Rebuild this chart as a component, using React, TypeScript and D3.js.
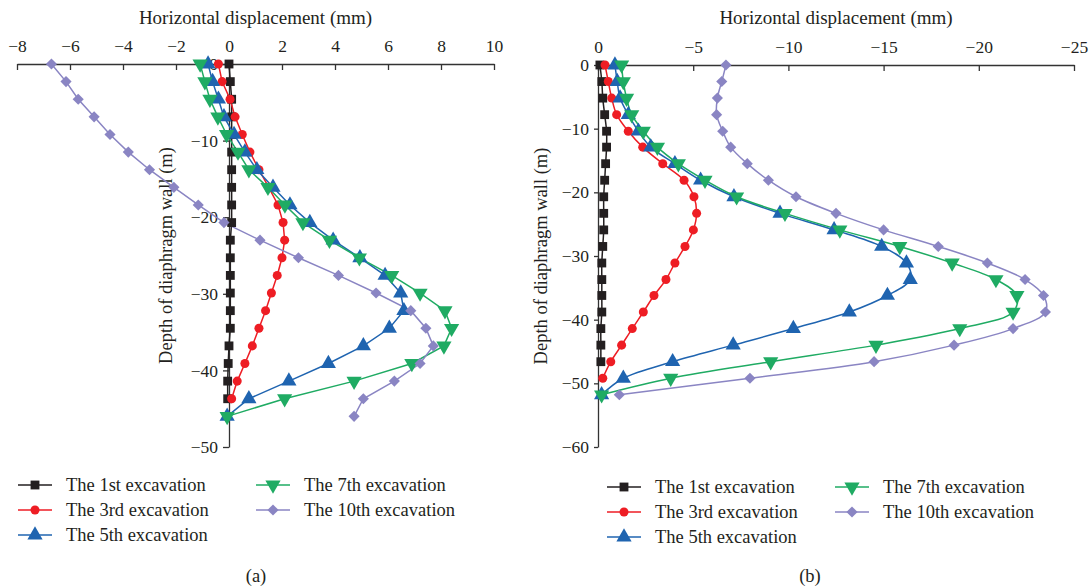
import React, { useEffect, useRef } from 'react';
import * as d3 from 'd3';

// depth of each inclinometer reading (m)
const depthA = [0, -2.3, -4.6, -6.9, -9.2, -11.5, -13.8, -16.1, -18.4, -20.7, -23, -25.3, -27.6, -29.9, -32.2, -34.5, -36.8, -39.1, -41.4, -43.7, -46];
const depthB = [0, -2.6, -5.2, -7.8, -10.4, -12.9, -15.5, -18.1, -20.7, -23.3, -25.9, -28.5, -31.1, -33.7, -36.2, -38.8, -41.4, -44.0, -46.6, -49.2, -51.8];

// (a) horizontal displacement (mm)
const a1st = [0, 0.05, 0.1, 0.1, 0.1, 0.1, 0.1, 0.1, 0.1, 0.1, 0.05, 0.05, 0.05, 0.05, 0.05, 0.05, 0, -0.03, -0.05, -0.05];
const a3rd = [-0.4, -0.26, 0.04, 0.23, 0.5, 0.79, 1.13, 1.5, 1.85, 2.04, 2.1, 2.0, 1.82, 1.6, 1.38, 1.13, 0.88, 0.6, 0.31, 0.1];
const a5th = [-0.79, -0.62, -0.4, -0.19, 0.19, 0.6, 1.05, 1.66, 2.3, 3.05, 3.93, 4.94, 5.89, 6.48, 6.6, 6.05, 5.07, 3.75, 2.26, 0.75, -0.07];
const a7th = [-1.09, -0.91, -0.72, -0.42, -0.09, 0.34, 0.75, 1.47, 2.11, 2.79, 3.79, 4.92, 6.14, 7.21, 8.15, 8.4, 8.11, 6.9, 4.72, 2.1, -0.07];
const a10th = [-6.7, -6.15, -5.69, -5.09, -4.49, -3.8, -3.0, -2.08, -1.16, -0.19, 1.17, 2.62, 4.13, 5.55, 6.86, 7.43, 7.71, 7.21, 6.24, 5.07, 4.72];

// (b) horizontal displacement (mm)
const b1st = [-0.1, -0.2, -0.25, -0.35, -0.45, -0.45, -0.4, -0.35, -0.3, -0.3, -0.3, -0.25, -0.2, -0.2, -0.2, -0.2, -0.15, -0.15, -0.15];
const b3rd = [-0.37, -0.54, -0.72, -0.98, -1.59, -2.35, -3.4, -4.52, -5.04, -5.18, -5.01, -4.57, -4.04, -3.57, -2.94, -2.38, -1.8, -1.24, -0.67, -0.25];
const b5th = [-0.89, -1.01, -1.16, -1.59, -2.12, -2.77, -4.04, -5.39, -7.14, -9.56, -12.4, -14.9, -16.2, -16.4, -15.2, -13.2, -10.26, -7.1, -3.92, -1.33, -0.19];
const b7th = [-1.24, -1.33, -1.5, -1.77, -2.38, -3.12, -4.22, -5.62, -7.28, -9.82, -12.7, -15.85, -18.6, -20.9, -22.0, -21.8, -19.0, -14.6, -9.07, -3.82, -0.19];
const b10th = [-6.72, -6.5, -6.27, -6.23, -6.55, -6.97, -7.84, -8.95, -10.4, -12.5, -15.0, -17.87, -20.45, -22.43, -23.4, -23.5, -21.8, -18.7, -14.5, -7.98, -1.12];

const seriesNames = ['The 1st excavation', 'The 3rd excavation', 'The 5th excavation', 'The 7th excavation', 'The 10th excavation'];
const ticksXA = [-8, -6, -4, -2, 0, 2, 4, 6, 8, 10];
const ticksYA = [0, -10, -20, -30, -40, -50];
const ticksXB = [0, -5, -10, -15, -20, -25];
const ticksYB = [0, -10, -20, -30, -40, -50, -60];

const colors = ['#231f20', '#ee1d24', '#1f64b0', '#1fab63', '#8a85c3'];
// diamond = square turned 45 degrees, like the spreadsheet marker
const shapes = [d3.symbolSquare, d3.symbolCircle, d3.symbolTriangle, d3.symbolTriangle, d3.symbolSquare];
const sizes = [78, 64, 100, 100, 62];
const rotations = [0, 0, 0, 180, 45];

const FONT = '"Liberation Serif", "DejaVu Serif", serif';
const TEXT = '#231f20';

const App = () => {
    const container = useRef<SVGSVGElement>(null);

    useEffect(() => {
        if (!container.current) return;
        const svg = d3.select(container.current);
        svg.selectAll('*').remove();

        const panels = [
            {
                x: d3.scaleLinear().domain([-8, 10]).range([17, 494]),
                y: d3.scaleLinear().domain([0, -50]).range([64, 447]),
                ticksX: ticksXA, ticksY: ticksYA,
                depth: depthA,
                series: [a1st, a3rd, a5th, a7th, a10th],
                curve: d3.curveLinear,
                yTick: 6,
                yTitleX: 172,
                legendX: [18, 256], legendY: [485, 510, 535],
                caption: '(a)', captionX: 256,
            },
            {
                x: d3.scaleLinear().domain([0, -25]).range([598, 1074]),
                y: d3.scaleLinear().domain([0, -60]).range([65, 447]),
                ticksX: ticksXB, ticksY: ticksYB,
                depth: depthB,
                series: [b1st, b3rd, b5th, b7th, b10th],
                curve: d3.curveCatmullRom,
                yTick: 4,
                yTitleX: 547,
                legendX: [607, 835], legendY: [487, 512, 537],
                caption: '(b)', captionX: 810,
            },
        ];

        panels.forEach((p) => {
            const g = svg.append('g');
            const [x0, x1] = p.x.range();
            const [y0, y1] = p.y.range();

            // top x axis, ticks pointing into the plot
            const xAxis = g.append('g')
                .attr('transform', `translate(0, ${y0})`)
                .call(d3.axisTop(p.x).tickValues(p.ticksX).tickSizeInner(-6).tickSizeOuter(0).tickPadding(12));
            xAxis.attr('font-family', FONT).attr('font-size', 17.5);
            xAxis.selectAll('path, line').attr('stroke', '#333').attr('stroke-width', 1.3);
            xAxis.selectAll('text').attr('fill', TEXT);

            g.append('text')
                .attr('x', (x0 + x1) / 2)
                .attr('y', 24)
                .attr('text-anchor', 'middle')
                .attr('font-family', FONT)
                .attr('font-size', 19)
                .attr('fill', TEXT)
                .text('Horizontal displacement (mm)');

            // left y axis at zero displacement
            const yAxis = g.append('g')
                .attr('transform', `translate(${p.x(0)}, 0)`)
                .call(d3.axisLeft(p.y).tickValues(p.ticksY).tickSizeInner(p.yTick).tickSizeOuter(0).tickPadding(5));
            yAxis.attr('font-family', FONT).attr('font-size', 17.5);
            yAxis.selectAll('path, line').attr('stroke', '#333').attr('stroke-width', 1.3);
            yAxis.selectAll('text').attr('fill', TEXT);

            g.append('text')
                .attr('transform', `translate(${p.yTitleX}, ${(y0 + y1) / 2}) rotate(-90)`)
                .attr('text-anchor', 'middle')
                .attr('font-family', FONT)
                .attr('font-size', 18.5)
                .attr('fill', TEXT)
                .text('Depth of diaphragm wall (m)');

            // series lines and markers
            p.series.forEach((vals, i) => {
                const pts = vals.map((v, k) => [p.x(v), p.y(p.depth[k])] as [number, number]);
                g.append('path')
                    .attr('d', d3.line().curve(p.curve)(pts))
                    .attr('fill', 'none')
                    .attr('stroke', colors[i])
                    .attr('stroke-width', 1.5);
            });
            p.series.forEach((vals, i) => {
                const sym = d3.symbol().type(shapes[i]).size(sizes[i]);
                g.append('g').selectAll('path')
                    .data(vals)
                    .join('path')
                    .attr('d', sym() as string)
                    .attr('fill', colors[i])
                    .attr('transform', (v, k) => `translate(${p.x(v)}, ${p.y(p.depth[k])}) rotate(${rotations[i]})`);
            });

            // legend
            seriesNames.forEach((name, i) => {
                const col = i < 3 ? 0 : 1;
                const row = i < 3 ? i : i - 3;
                const lx = p.legendX[col];
                const ly = p.legendY[row];
                const lg = g.append('g');
                lg.append('line')
                    .attr('x1', lx).attr('x2', lx + 34)
                    .attr('y1', ly).attr('y2', ly)
                    .attr('stroke', colors[i]).attr('stroke-width', 1.5);
                lg.append('path')
                    .attr('d', d3.symbol().type(shapes[i]).size(sizes[i])() as string)
                    .attr('fill', colors[i])
                    .attr('transform', `translate(${lx + 17}, ${ly}) rotate(${rotations[i]})`);
                lg.append('text')
                    .attr('x', lx + 48)
                    .attr('y', ly + 5.5)
                    .attr('font-family', FONT)
                    .attr('font-size', 18.5)
                    .attr('fill', TEXT)
                    .text(name);
            });

            g.append('text')
                .attr('x', p.captionX)
                .attr('y', 582)
                .attr('text-anchor', 'middle')
                .attr('font-family', FONT)
                .attr('font-size', 18.5)
                .attr('fill', TEXT)
                .text(p.caption);
        });
    }, []);

    return (
        <svg ref={container} width={1092} height={588}
            style={{ position: 'absolute', left: 0, top: 0, background: '#fff' }} />
    );
};

export default App;
